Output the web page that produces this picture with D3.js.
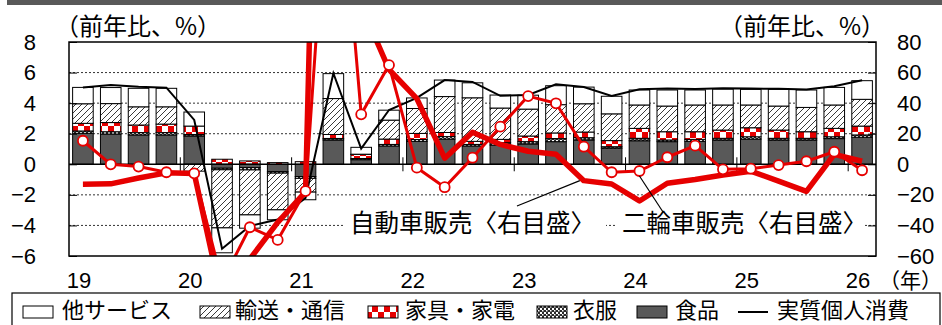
<!DOCTYPE html>
<html><head><meta charset="utf-8">
<script src="https://cdn.jsdelivr.net/npm/d3@7"></script>
<style>
body{margin:0;background:#fff}
svg{display:block}
.num{font-family:"Liberation Sans",Arial,sans-serif;font-size:22px;fill:#000}
.jp{font-family:"Noto Sans CJK JP",sans-serif;fill:#000}
</style>
</head><body>
<svg id="chart" width="942" height="325"></svg>
<script>
// ---- data ----
const quarters = [
 "2019Q1","2019Q2","2019Q3","2019Q4","2020Q1","2020Q2","2020Q3","2020Q4",
 "2021Q1","2021Q2","2021Q3","2021Q4","2022Q1","2022Q2","2022Q3","2022Q4",
 "2023Q1","2023Q2","2023Q3","2023Q4","2024Q1","2024Q2","2024Q3","2024Q4",
 "2025Q1","2025Q2","2025Q3","2025Q4","2026Q1"];
const yearLabels = ["19","20","21","22","23","24","25","26"];
const leftTicks = [-6,-4,-2,0,2,4,6,8];
const rightTicks = [-60,-40,-20,0,20,40,60,80];

const food      = [2.03,1.98,1.92,1.92,1.85,-0.26,-0.22,-0.48,-0.80,1.59,0.30,1.20,1.50,1.65,1.20,1.26,1.33,1.48,1.59,1.05,1.54,1.48,1.50,1.58,1.65,1.58,1.58,1.68,1.77];
const clothing  = [0.15,0.15,0.15,0.15,0.10,-0.10,-0.15,-0.10,-0.12,0.10,0.08,0.10,0.12,0.16,0.10,0.15,0.15,0.20,0.15,0.10,0.16,0.11,0.13,0.12,0.15,0.12,0.12,0.12,0.15];
const furniture = [0.50,0.60,0.50,0.56,0.55,0.33,0.22,0.11,0.17,0.26,0.26,0.35,0.40,0.27,0.20,0.22,0.37,0.37,0.37,0.40,0.65,0.54,0.50,0.54,0.59,0.54,0.43,0.55,0.58];
const transport = [1.28,1.24,1.19,1.13,-0.45,-3.80,-2.94,-2.40,-0.90,2.35,0.02,1.24,1.63,2.35,2.85,2.05,1.76,1.85,1.85,1.75,1.53,1.68,1.75,1.64,1.49,1.57,1.59,1.53,1.75];
const otherServices = [1.07,1.05,1.21,1.21,0.92,-1.63,-0.87,-0.65,-0.50,1.63,0.45,0.65,0.69,1.08,0.98,0.85,0.91,1.24,1.09,1.15,0.98,1.05,0.98,1.04,1.02,1.09,1.14,1.15,1.22];
const consumption = [5.02,5.18,5.07,5.01,2.90,-5.52,-4.04,-3.61,-2.20,5.96,1.02,3.55,4.34,5.51,5.39,4.48,4.54,5.23,5.06,4.47,4.91,4.95,4.93,4.98,4.95,4.94,4.89,5.10,5.50];
const carSales = [-13.0,-12.8,-9.0,-5.6,-6.0,-89,-62,-38,-18,700,104,62,43,4.0,21.0,13.0,8.5,6.6,-10.7,-12.9,-24.0,-12.4,-10.0,-7.0,-4.5,-11.0,-17.7,6.5,2.0];
const motorcycleSales = [15.4,0.0,-1.5,-5.2,-5.9,-77,-41.2,-49.5,-17.5,245,32.7,64.9,-2.2,-15.0,4.3,24.6,44.6,39.9,11.5,-5.2,-4.4,4.6,12.2,-3.3,-2.9,-0.5,2.0,8.2,-3.9];

const seriesKeys = ["food","clothing","furniture","transport","otherServices"];
const seriesNames = {food:"食品",clothing:"衣服",furniture:"家具・家電",transport:"輸送・通信",otherServices:"他サービス"};
const lineName = "実質個人消費";
const axisTitle = "（前年比、%）";
const yearUnit = "（年）";
const carLabel = "自動車販売〈右目盛〉";
const motoLabel = "二輪車販売〈右目盛〉";

// ---- layout ----
const svg = d3.select("#chart");
const L = 69, R = 876, T = 42, B = 256;
const x = d3.scaleBand().domain(quarters).range([L,R]).paddingInner(0.26).paddingOuter(0.13);
const yL = d3.scaleLinear().domain([-6,8]).range([B,T]);
const yR = d3.scaleLinear().domain([-60,80]).range([B,T]);
const cx = q => x(q) + x.bandwidth()/2;
const step = x.step();

const defs = svg.append("defs");
defs.append("clipPath").attr("id","plotclip").append("rect")
  .attr("x",L).attr("y",T).attr("width",R-L).attr("height",B-T);
// hatch
const ph = defs.append("pattern").attr("id","hatch").attr("patternUnits","userSpaceOnUse").attr("width",6).attr("height",6);
ph.append("rect").attr("width",6).attr("height",6).attr("fill","#fff");
ph.append("path").attr("d","M0,6 L6,0 M-1,1 L1,-1 M5,7 L7,5").attr("stroke","#3a3a3a").attr("stroke-width",1);
// checker
const pc = defs.append("pattern").attr("id","checker").attr("patternUnits","userSpaceOnUse").attr("width",12).attr("height",12);
pc.append("rect").attr("width",12).attr("height",12).attr("fill","#e60000");
pc.append("rect").attr("width",6).attr("height",6).attr("fill","#fff");
pc.append("rect").attr("x",6).attr("y",6).attr("width",6).attr("height",6).attr("fill","#fff");
// dots (clothing)
const pd = defs.append("pattern").attr("id","dots").attr("patternUnits","userSpaceOnUse").attr("width",4).attr("height",4);
pd.append("rect").attr("width",4).attr("height",4).attr("fill","#2a2a2a");
pd.append("rect").attr("x",0).attr("y",0).attr("width",2).attr("height",2).attr("fill","#fff");
pd.append("rect").attr("x",2).attr("y",2).attr("width",1.5).attr("height",1.5).attr("fill","#fff");

const fills = {food:"#595959",clothing:"url(#dots)",furniture:"url(#checker)",transport:"url(#hatch)",otherServices:"#fff"};

// top band
svg.append("rect").attr("x",7).attr("y",0).attr("width",935).attr("height",5).attr("fill","#595959");

// gridlines
svg.append("g").selectAll("line").data(leftTicks.filter(v=>v!==0 && v!==8 && v!==-6)).join("line")
  .attr("x1",L).attr("x2",R).attr("y1",d=>yL(d)).attr("y2",d=>yL(d))
  .attr("stroke","#333").attr("stroke-width",1).attr("stroke-dasharray","2,2");

// stacked bars
const rows = quarters.map((q,i)=>({q, food:food[i], clothing:clothing[i], furniture:furniture[i], transport:transport[i], otherServices:otherServices[i]}));
const stacked = d3.stack().keys(seriesKeys).offset(d3.stackOffsetDiverging)(rows);
svg.append("g").selectAll("g").data(stacked).join("g")
  .attr("fill",d=>fills[d.key])
  .selectAll("rect").data(d=>d).join("rect")
  .attr("x",d=>x(d.data.q)).attr("width",x.bandwidth())
  .attr("y",d=>yL(Math.max(d[0],d[1]))).attr("height",d=>Math.abs(yL(d[0])-yL(d[1])))
  .attr("stroke","#000").attr("stroke-width",1);

// zero line
svg.append("line").attr("x1",L).attr("x2",R).attr("y1",yL(0)).attr("y2",yL(0)).attr("stroke","#000").attr("stroke-width",1.5);
// year ticks at zero line
const yearStarts = quarters.map((q,i)=>i).filter(i=>i%4===0 && i>0);
svg.append("g").selectAll("line").data(yearStarts).join("line")
  .attr("x1",i=>x(quarters[i]) - step*0.13).attr("x2",i=>x(quarters[i]) - step*0.13)
  .attr("y1",yL(0)-7).attr("y2",yL(0)+7).attr("stroke","#000").attr("stroke-width",1);

// lines
const plot = svg.append("g").attr("clip-path","url(#plotclip)");
const lineL = d3.line().x((d,i)=>cx(quarters[i])).y(d=>yL(d));
const lineR = d3.line().x((d,i)=>cx(quarters[i])).y(d=>yR(d));
plot.append("path").attr("d",lineL(consumption)).attr("fill","none").attr("stroke","#000").attr("stroke-width",2);
plot.append("path").attr("d",lineR(carSales)).attr("fill","none").attr("stroke","#e60000").attr("stroke-width",5.5).attr("stroke-linejoin","round");
plot.append("path").attr("d",lineR(motorcycleSales)).attr("fill","none").attr("stroke","#e60000").attr("stroke-width",3).attr("stroke-linejoin","round");
plot.append("g").selectAll("circle").data(motorcycleSales).join("circle")
  .attr("cx",(d,i)=>cx(quarters[i])).attr("cy",d=>yR(d)).attr("r",5)
  .attr("fill","#fff").attr("stroke","#e60000").attr("stroke-width",1.8);

// annotations
function annot(label, tx, ty, w){
  svg.append("rect").attr("x",tx-6).attr("y",ty-14).attr("width",w).attr("height",28).attr("fill","#fff");
  svg.append("text").attr("class","jp").attr("x",tx).attr("y",ty).attr("dominant-baseline","central")
    .style("font-size","24.5px").text(label);
}
annot(carLabel, 350, 221, 262);
annot(motoLabel, 622, 221, 248);
svg.append("line").attr("x1",517).attr("y1",206).attr("x2",cx(quarters[18])-4).attr("y2",yR(carSales[18]))
  .attr("stroke","#000").attr("stroke-width",1.2);
svg.append("line").attr("x1",663).attr("y1",212).attr("x2",cx(quarters[20])).attr("y2",yR(motorcycleSales[20])+5)
  .attr("stroke","#000").attr("stroke-width",1.2);

// frame
svg.append("rect").attr("x",L).attr("y",T).attr("width",R-L).attr("height",B-T)
  .attr("fill","none").attr("stroke","#000").attr("stroke-width",1.5);

// axes
const axL = svg.append("g").attr("transform",`translate(${L},0)`)
  .call(d3.axisLeft(yL).tickValues(leftTicks).tickSize(-8).tickPadding(33).tickFormat(d3.format("d")));
const axR = svg.append("g").attr("transform",`translate(${R},0)`)
  .call(d3.axisRight(yR).tickValues(rightTicks).tickSize(-8).tickPadding(21).tickFormat(d3.format("d")));
[axL,axR].forEach(a=>{
  a.select(".domain").remove();
  a.selectAll(".tick line").attr("stroke","#000").attr("stroke-width",1);
  a.selectAll("text").attr("class","num").attr("font-family",null).attr("font-size",null).attr("fill","#000");
});

// x labels
svg.append("g").selectAll("text").data(yearLabels).join("text")
  .attr("class","num").attr("text-anchor","middle")
  .attr("x",(d,k)=>cx(quarters[k*4]) - 4).attr("y",288).text(d=>d);
svg.append("text").attr("class","jp").attr("x",942).attr("y",288).attr("text-anchor","end")
  .style("font-size","21px").text(yearUnit);

// axis titles
svg.append("text").attr("class","jp").attr("x",55).attr("y",24).attr("dominant-baseline","central")
  .style("font-size","24px").text(axisTitle);
svg.append("text").attr("class","jp").attr("x",885).attr("y",24).attr("text-anchor","end").attr("dominant-baseline","central")
  .style("font-size","24px").text(axisTitle);

// legend
svg.append("rect").attr("x",12).attr("y",293).attr("width",928).attr("height",40).attr("fill","none").attr("stroke","#000").attr("stroke-width",1.2);
const legendItems = [
  {key:"otherServices", sx:23, tx:62},
  {key:"transport", sx:200, tx:235},
  {key:"furniture", sx:368, tx:405},
  {key:"clothing", sx:537, tx:573},
  {key:"food", sx:637, tx:675}
];
const lg = svg.append("g");
legendItems.forEach(it=>{
  lg.append("rect").attr("x",it.sx).attr("y",306).attr("width",30).attr("height",12)
    .attr("fill",fills[it.key]).attr("stroke","#000").attr("stroke-width",1);
  lg.append("text").attr("class","jp").attr("x",it.tx).attr("y",318)
    .style("font-size","22px").text(seriesNames[it.key]);
});
lg.append("line").attr("x1",738).attr("x2",768).attr("y1",312).attr("y2",312).attr("stroke","#000").attr("stroke-width",2);
lg.append("text").attr("class","jp").attr("x",777).attr("y",318)
  .style("font-size","22px").text(lineName);
</script>
</body></html>
